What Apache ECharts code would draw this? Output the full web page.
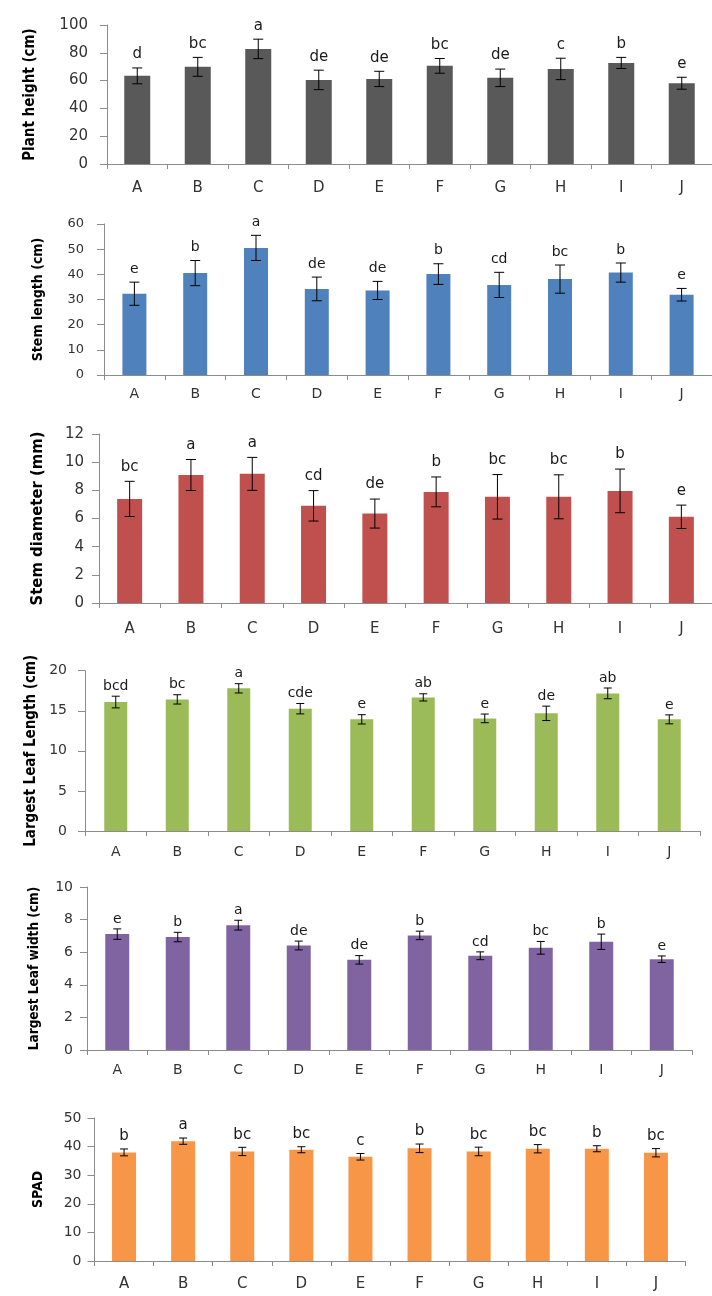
<!DOCTYPE html>
<html>
<head>
<meta charset="utf-8">
<script src="https://cdn.jsdelivr.net/npm/echarts@6/dist/echarts.min.js"></script>
<style>
html,body{margin:0;padding:0;background:#fff;}
#chart{width:712px;height:1296px;}
</style>
</head>
<body>
<div id="chart"></div>
<script>
const categories = ['A','B','C','D','E','F','G','H','I','J'];

const heightVals = [63.4, 69.9, 82.8, 60.5, 61.2, 70.6, 62.0, 68.4, 72.7, 58.1];
const heightErr  = [5.7, 6.8, 7.0, 7.0, 5.5, 5.3, 6.3, 7.7, 4.0, 4.3];
const heightLetters = ['d','bc','a','de','de','bc','de','c','b','e'];

const stemLenVals = [32.3, 40.5, 50.5, 34.2, 33.6, 40.1, 35.8, 38.1, 40.7, 31.9];
const stemLenErr  = [4.6, 5.0, 5.0, 4.7, 3.6, 4.1, 5.0, 5.6, 3.8, 2.5];
const stemLenLetters = ['e','b','a','de','de','b','cd','bc','b','e'];

const stemDiaVals = [7.39, 9.09, 9.17, 6.90, 6.35, 7.89, 7.54, 7.54, 7.96, 6.12];
const stemDiaErr  = [1.25, 1.10, 1.17, 1.08, 1.03, 1.06, 1.58, 1.56, 1.55, 0.83];
const stemDiaLetters = ['bc','a','a','cd','de','b','bc','bc','b','e'];

const leafLenVals = [16.09, 16.42, 17.80, 15.26, 13.93, 16.67, 14.05, 14.68, 17.17, 13.93];
const leafLenErr  = [0.73, 0.58, 0.58, 0.65, 0.58, 0.45, 0.54, 0.90, 0.67, 0.56];
const leafLenLetters = ['bcd','bc','a','cde','e','ab','e','de','ab','e'];

const leafWidVals = [7.11, 6.93, 7.66, 6.41, 5.53, 7.03, 5.78, 6.27, 6.64, 5.57];
const leafWidErr  = [0.32, 0.29, 0.30, 0.27, 0.26, 0.26, 0.24, 0.39, 0.47, 0.20];
const leafWidLetters = ['e','b','a','de','de','b','cd','bc','b','e'];

const spadVals = [37.97, 41.9, 38.3, 38.9, 36.45, 39.4, 38.3, 39.25, 39.25, 37.85];
const spadErr  = [1.20, 1.10, 1.45, 1.05, 1.15, 1.50, 1.50, 1.45, 1.05, 1.45];
const spadLetters = ['b','a','bc','bc','c','b','bc','bc','b','bc'];

const yTitles = ['Plant height (cm)','Stem length (cm)','Stem diameter (mm)','Largest Leaf Length (cm)','Largest Leaf width (cm)','SPAD'];
const yMax = [100, 60, 12, 20, 10, 50];
const yInterval = [20, 10, 2, 5, 2, 10];

const panelData = [
  [heightVals, heightErr, heightLetters],
  [stemLenVals, stemLenErr, stemLenLetters],
  [stemDiaVals, stemDiaErr, stemDiaLetters],
  [leafLenVals, leafLenErr, leafLenLetters],
  [leafWidVals, leafWidErr, leafWidLetters],
  [spadVals, spadErr, spadLetters]
];

// layout / style (not data)
const layout = [
  {left:107, top:25,    width:605, height:139, color:'#595959', barW:26, cap:5, gap:6, tick:15, cat:15, title:15, nameGap:69, lblMargin:19, catMargin:17, letter:15},
  {left:104, top:224,   width:609, height:151, color:'#4F81BD', barW:24, cap:5, gap:6, tick:13, cat:14, title:14, nameGap:59, lblMargin:20, catMargin:12, letter:14},
  {left:99,  top:434,   width:614, height:169, color:'#C0504D', barW:25, cap:5, gap:7, tick:15, cat:15, title:16.5, nameGap:53, lblMargin:15, catMargin:19, letter:15},
  {left:85,  top:670.7, width:615, height:160.3,color:'#9BBB59', barW:23, cap:4, gap:3, tick:14, cat:14, title:15, nameGap:46, lblMargin:18, catMargin:14, letter:14},
  {left:87,  top:887,   width:605, height:163, color:'#8064A2', barW:24, cap:4, gap:3, tick:14, cat:14, title:13.5, nameGap:46, lblMargin:14, catMargin:13, letter:14},
  {left:94.5,top:1118,  width:591, height:143, color:'#F79646', barW:24, cap:4, gap:5, tick:14, cat:15, title:14, nameGap:49, lblMargin:13, catMargin:16, letter:15}
];

const FONT = 'DejaVu Sans';
const TITLE_FONT = '"DejaVu Sans Condensed", Lato';
const axisColor = '#8c8c8c';
const textColor = '#333333';

const grids = [], xAxes = [], yAxes = [], series = [];
layout.forEach((L, p) => {
  grids.push({left:L.left, top:L.top, width:L.width, height:L.height, containLabel:false});
  xAxes.push({
    type:'category', gridIndex:p, data:categories,
    axisLine:{show:true, lineStyle:{color:axisColor, width:1}},
    axisTick:{show:true, alignWithLabel:false, length:5, lineStyle:{color:axisColor}},
    axisLabel:{color:textColor, fontFamily:FONT, fontSize:L.cat, margin:L.catMargin},
    splitLine:{show:false}
  });
  yAxes.push({
    type:'value', gridIndex:p, min:0, max:yMax[p], interval:yInterval[p],
    name:yTitles[p], nameLocation:'middle', nameGap:L.nameGap,
    nameTextStyle:{fontFamily:TITLE_FONT, fontWeight:'bold', fontSize:L.title, color:'#000'},
    axisLine:{show:true, lineStyle:{color:axisColor, width:1}},
    axisTick:{show:true, length:7, lineStyle:{color:axisColor}},
    axisLabel:{color:textColor, fontFamily:FONT, fontSize:L.tick, margin:L.lblMargin},
    splitLine:{show:false}
  });
  const [vals, errs, letters] = panelData[p];
  series.push({
    type:'bar', xAxisIndex:p, yAxisIndex:p, data:vals, barWidth:L.barW,
    itemStyle:{color:L.color}, silent:true, animation:false
  });
  series.push({
    type:'custom', xAxisIndex:p, yAxisIndex:p, z:5, animation:false, silent:true,
    data: vals.map((v,i)=>[i, v, errs[i]]),
    renderItem: function(params, api){
      const i = api.value(0), v = api.value(1), e = api.value(2);
      const top = api.coord([i, v+e]);
      const bot = api.coord([i, v-e]);
      const st = {stroke:'#000', lineWidth:1};
      return {type:'group', children:[
        {type:'line', shape:{x1:top[0], y1:top[1], x2:bot[0], y2:bot[1]}, style:st},
        {type:'line', shape:{x1:top[0]-L.cap, y1:top[1], x2:top[0]+L.cap, y2:top[1]}, style:st},
        {type:'line', shape:{x1:bot[0]-L.cap, y1:bot[1], x2:bot[0]+L.cap, y2:bot[1]}, style:st},
        {type:'text', style:{text:letters[params.dataIndex], x:top[0], y:top[1]-L.gap,
          align:'center', verticalAlign:'bottom', fill:'#1a1a1a',
          font: L.letter + 'px "' + FONT + '"'}}
      ]};
    }
  });
});

const chart = echarts.init(document.getElementById('chart'), null, {renderer:'canvas', width:712, height:1296});
chart.setOption({
  animation:false,
  backgroundColor:'#ffffff',
  grid:grids, xAxis:xAxes, yAxis:yAxes, series:series
});
</script>
</body>
</html>
